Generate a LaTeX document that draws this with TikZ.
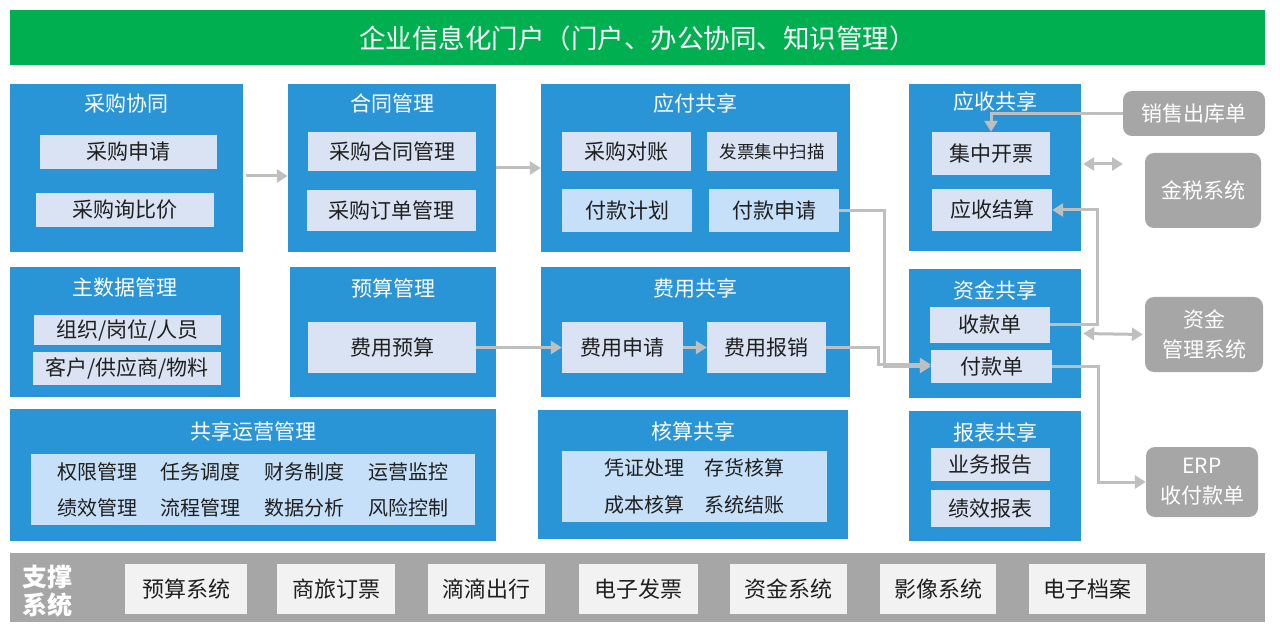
\documentclass[tikz,border=0pt]{standalone}
\usepackage{fontspec}
\setmainfont{Noto Sans CJK SC}
\usepackage{tikz}
\usetikzlibrary{arrows.meta}
\definecolor{boxblue}{RGB}{41,148,214}
\definecolor{subgray}{RGB}{218,227,243}
\definecolor{sublight}{RGB}{197,224,248}
\definecolor{sysgray}{RGB}{166,166,166}
\definecolor{linegray}{RGB}{191,191,191}
\definecolor{portalgreen}{RGB}{0,176,80}
\definecolor{syswhite}{RGB}{242,242,242}

\begin{document}
\begin{tikzpicture}[x=1pt, y=-1pt, >={Triangle[length=11pt,width=13pt]},
  bluebox/.style={fill=boxblue, inner sep=0pt},
  titletext/.style={text=white, inner sep=0pt, font=\fontsize{21pt}{25pt}\selectfont},
  subbox/.style={fill=subgray, inner sep=0pt, text=black!88, font=\fontsize{21pt}{25pt}\selectfont},
  sublbox/.style={subbox, fill=sublight},
  graybox/.style={fill=sysgray, rounded corners=9pt, inner sep=0pt, text=white, align=center, font=\fontsize{21pt}{30pt}\selectfont},
  sysbox/.style={fill=syswhite, inner sep=0pt, text=black!88, minimum height=50pt, font=\fontsize{22pt}{26pt}\selectfont},
  conn/.style={draw=linegray, line width=3pt, ->},
  dconn/.style={draw=linegray, line width=3pt, <->}]
\useasboundingbox (0,0) rectangle (1280,628);

\node[fill=portalgreen, minimum width=1255pt, minimum height=55pt, inner sep=0pt, text=white, font=\fontsize{26.5pt}{30pt}\selectfont] (portal) at (637.5,38) {企业信息化门户（门户、办公协同、知识管理）};

\node[bluebox, minimum width=233pt, minimum height=168pt] (caigou) at (126.5,168) {};
\node[titletext] (caigouT) at (126.5,104) {采购协同};
\node[subbox, minimum width=177pt, minimum height=34pt] (cgsq) at (128.5,152) {采购申请};
\node[subbox, minimum width=178pt, minimum height=34pt] (cgxbj) at (125,210) {采购询比价};

\node[bluebox, minimum width=208pt, minimum height=168pt] (hetong) at (392,168) {};
\node[titletext] (hetongT) at (392,104) {合同管理};
\node[subbox, minimum width=168pt, minimum height=39pt] (cghtgl) at (392,151.5) {采购合同管理};
\node[subbox, minimum width=169pt, minimum height=41pt] (cgddgl) at (391.5,210.5) {采购订单管理};

\node[bluebox, minimum width=309pt, minimum height=168pt] (yingfu) at (695.5,168) {};
\node[titletext] (yingfuT) at (695.5,104) {应付共享};
\node[subbox, minimum width=129pt, minimum height=39pt] (cgdz) at (626.5,151.5) {采购对账};
\node[subbox, minimum width=130pt, minimum height=39pt, font=\fontsize{17.5pt}{21pt}\selectfont] (fpsm) at (772,151.5) {发票集中扫描};
\node[sublbox, minimum width=130pt, minimum height=43pt] (fkjh) at (627,210.5) {付款计划};
\node[sublbox, minimum width=130pt, minimum height=43pt] (fksq) at (774,210.5) {付款申请};

\node[bluebox, minimum width=172pt, minimum height=167pt] (yingshou) at (995,167.5) {};
\node[titletext] (yingshouT) at (995,102) {应收共享};
\node[subbox, minimum width=118pt, minimum height=43pt] (jzkp) at (991,153.5) {集中开票};
\node[subbox, minimum width=120pt, minimum height=42pt] (ysjs) at (992,210) {应收结算};

\node[graybox, minimum width=142pt, minimum height=45pt] (xsck) at (1194,113.5) {销售出库单};
\node[graybox, minimum width=116pt, minimum height=75pt] (jinshui) at (1203,190.5) {金税系统};
\coordinate (jsend) at (1123,164);

\node[bluebox, minimum width=230pt, minimum height=130pt] (zhushuju) at (125,332) {};
\node[titletext] (zhushujuT) at (125,288) {主数据管理};
\node[subbox, minimum width=187pt, minimum height=30pt] (zzgw) at (127.5,330) {组织/岗位/人员};
\node[subbox, minimum width=188pt, minimum height=33pt] (khgy) at (127,368.5) {客户/供应商/物料};

\node[bluebox, minimum width=206pt, minimum height=130pt] (yusuan) at (393,332) {};
\node[titletext] (yusuanT) at (393,288) {预算管理};
\node[subbox, minimum width=168pt, minimum height=51pt] (fyys) at (392,347.5) {费用预算};

\node[bluebox, minimum width=309pt, minimum height=130pt] (feiyong) at (695.5,332) {};
\node[titletext] (feiyongT) at (695.5,288) {费用共享};
\node[subbox, minimum width=121pt, minimum height=51pt] (fysq) at (622.5,347.5) {费用申请};
\node[subbox, minimum width=119pt, minimum height=51pt] (fybx) at (766.5,347.5) {费用报销};

\node[bluebox, minimum width=172pt, minimum height=129pt] (zijin) at (995,333.5) {};
\node[titletext] (zijinT) at (995,290) {资金共享};
\node[subbox, minimum width=120pt, minimum height=36pt] (skd) at (990,325) {收款单};
\node[subbox, minimum width=121pt, minimum height=33pt] (fkd) at (991.5,366.5) {付款单};

\node[graybox, minimum width=118pt, minimum height=75pt] (zjgl) at (1204,334.5) {资金\\管理系统};

\node[bluebox, minimum width=486pt, minimum height=132pt] (yunying) at (253,475) {};
\node[titletext] (yunyingT) at (253,431) {共享运营管理};
\node[sublbox, minimum width=444pt, minimum height=71pt, align=center, font=\fontsize{20pt}{36pt}\selectfont] (yyitems) at (253,489.5) {权限管理\hspace{1.2em}任务调度\hspace{1.2em}财务制度\hspace{1.2em}运营监控\\绩效管理\hspace{1.2em}流程管理\hspace{1.2em}数据分析\hspace{1.2em}风险控制};

\node[bluebox, minimum width=310pt, minimum height=129pt] (hesuan) at (693,474.5) {};
\node[titletext] (hesuanT) at (693,431) {核算共享};
\node[sublbox, minimum width=265pt, minimum height=71pt, align=center, font=\fontsize{20pt}{37pt}\selectfont] (hsitems) at (694.5,486.5) {凭证处理\hspace{1em}存货核算\\成本核算\hspace{1em}系统结账};

\node[bluebox, minimum width=172pt, minimum height=130pt] (baobiao) at (995,476) {};
\node[titletext] (baobiaoT) at (995,432) {报表共享};
\node[subbox, minimum width=119pt, minimum height=33pt] (ywbg) at (990.5,464.5) {业务报告};
\node[subbox, minimum width=119pt, minimum height=37pt] (jxbb) at (990.5,508.5) {绩效报表};

\node[graybox, minimum width=112pt, minimum height=70pt] (erp) at (1202,482) {ERP\\收付款单};

\node[fill=sysgray, minimum width=1255pt, minimum height=69pt, inner sep=0pt] (zhicheng) at (637.5,587.5) {};
\node[text=white, align=center, inner sep=0pt, font=\bfseries\fontsize{25pt}{28pt}\selectfont] (zhichengT) at (48,591) {支撑\\系统};
\node[sysbox, minimum width=122pt] (yssys) at (186,589) {预算系统};
\node[sysbox, minimum width=118pt] (sldp) at (336,589) {商旅订票};
\node[sysbox, minimum width=117pt] (ddcx) at (486.5,589) {滴滴出行};
\node[sysbox, minimum width=119pt] (dzfp) at (638.5,589) {电子发票};
\node[sysbox, minimum width=117pt] (zjsys) at (788.5,589) {资金系统};
\node[sysbox, minimum width=116pt] (yxsys) at (938,589) {影像系统};
\node[sysbox, minimum width=117pt] (dzda) at (1087.5,589) {电子档案};

\draw[conn] ([yshift=-8pt,xshift=3pt]caigou.east) -- ([yshift=-8pt]hetong.west);
\draw[conn] (hetong.east) -- (yingfu.west);
\draw[conn] (fyys.east) -- (fysq.west);
\draw[conn] (fysq.east) -- (fybx.west);
\draw[conn] (fksq.east) -- ++(45,0) |- (fkd.west);
\draw[conn] (fybx.east) -- ++(52,0) |- ([yshift=2pt]fkd.west);
\draw[conn] (xsck.west) -| (jzkp.north);
\draw[conn] (skd.east) -- ++(47,0) |- (ysjs.east);
\draw[conn] (fkd.east) -- ++(46,0) |- (erp.west);
\draw[dconn] ([xshift=2pt]yingshou.east |- jsend) -- (jsend);
\draw[dconn] ([xshift=2pt]zijin.east) -- ([xshift=-2pt]zjgl.west);
\end{tikzpicture}
\end{document}
